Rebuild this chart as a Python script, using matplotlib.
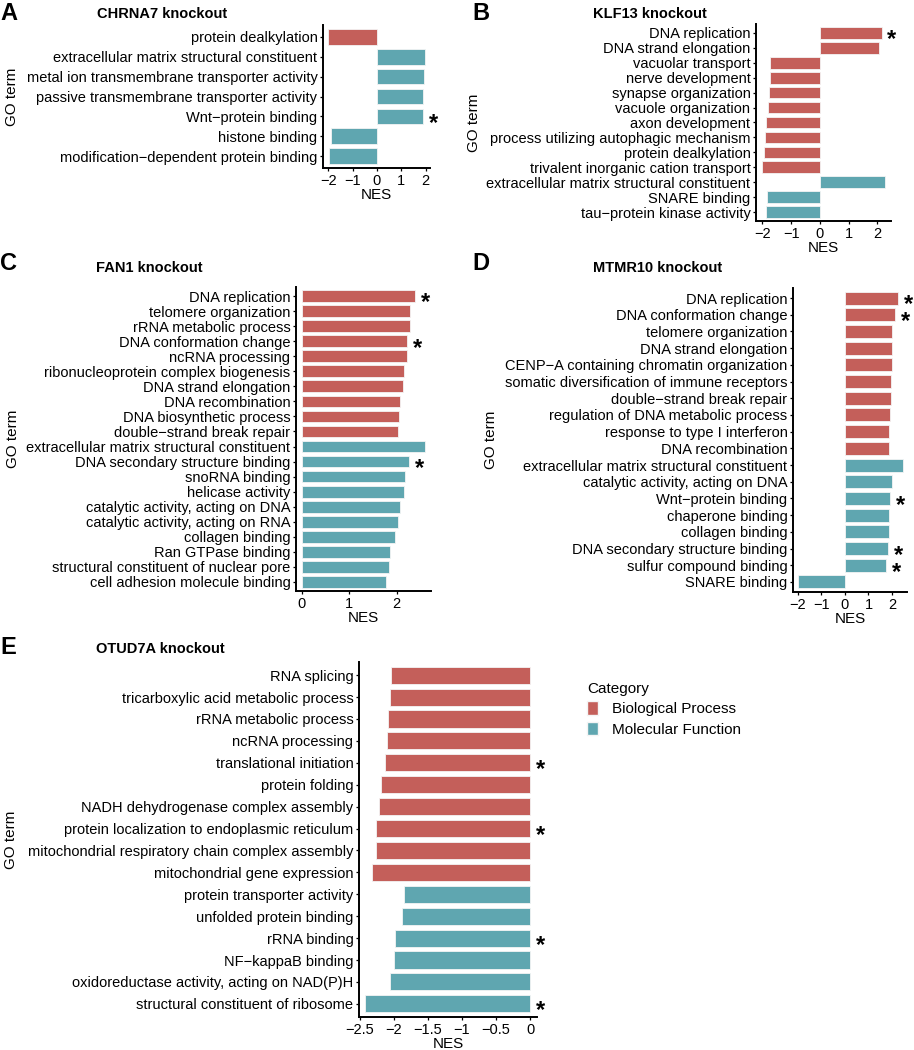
import matplotlib
matplotlib.use("Agg")
import matplotlib.pyplot as plt
from matplotlib.patches import Patch
from matplotlib.ticker import FuncFormatter

plt.rcParams['font.family'] = ['Liberation Sans', 'DejaVu Sans']

BP = "#C45F5A"
MF = "#5FA6B0"

# panel A: CHRNA7
a_terms = ["protein dealkylation", "extracellular matrix structural constituent",
           "metal ion transmembrane transporter activity", "passive transmembrane transporter activity",
           "Wnt\u2212protein binding", "histone binding", "modification\u2212dependent protein binding"]
a_nes = [-2.03, 1.97, 1.92, 1.90, 1.90, -1.89, -1.99]
a_cat = ["BP", "MF", "MF", "MF", "MF", "MF", "MF"]
a_sig = [0, 0, 0, 0, 1, 0, 0]

# panel B: KLF13
b_terms = ["DNA replication", "DNA strand elongation", "vacuolar transport", "nerve development",
           "synapse organization", "vacuole organization", "axon development",
           "process utilizing autophagic mechanism", "protein dealkylation",
           "trivalent inorganic cation transport", "extracellular matrix structural constituent",
           "SNARE binding", "tau\u2212protein kinase activity"]
b_nes = [2.14, 2.06, -1.73, -1.73, -1.76, -1.79, -1.87, -1.91, -1.93, -2.00, 2.27, -1.85, -1.86]
b_cat = ["BP"] * 10 + ["MF"] * 3
b_sig = [1] + [0] * 12

# panel C: FAN1
c_terms = ["DNA replication", "telomere organization", "rRNA metabolic process",
           "DNA conformation change", "ncRNA processing", "ribonucleoprotein complex biogenesis",
           "DNA strand elongation", "DNA recombination", "DNA biosynthetic process",
           "double\u2212strand break repair", "extracellular matrix structural constituent",
           "DNA secondary structure binding", "snoRNA binding", "helicase activity",
           "catalytic activity, acting on DNA", "catalytic activity, acting on RNA",
           "collagen binding", "Ran GTPase binding", "structural constituent of nuclear pore",
           "cell adhesion molecule binding"]
c_nes = [2.38, 2.27, 2.27, 2.21, 2.21, 2.15, 2.13, 2.06, 2.04, 2.02,
         2.60, 2.25, 2.17, 2.16, 2.06, 2.02, 1.96, 1.85, 1.84, 1.78]
c_cat = ["BP"] * 10 + ["MF"] * 10
c_sig = [1, 0, 0, 1, 0, 0, 0, 0, 0, 0, 0, 1, 0, 0, 0, 0, 0, 0, 0, 0]

# panel D: MTMR10
d_terms = ["DNA replication", "DNA conformation change", "telomere organization",
           "DNA strand elongation", "CENP\u2212A containing chromatin organization",
           "somatic diversification of immune receptors", "double\u2212strand break repair",
           "regulation of DNA metabolic process", "response to type I interferon",
           "DNA recombination", "extracellular matrix structural constituent",
           "catalytic activity, acting on DNA", "Wnt\u2212protein binding", "chaperone binding",
           "collagen binding", "DNA secondary structure binding", "sulfur compound binding",
           "SNARE binding"]
d_nes = [2.27, 2.13, 2.01, 2.00, 1.99, 1.97, 1.97, 1.90, 1.86, 1.86,
         2.47, 2.01, 1.90, 1.89, 1.87, 1.83, 1.74, -2.00]
d_cat = ["BP"] * 10 + ["MF"] * 8
d_sig = [1, 1, 0, 0, 0, 0, 0, 0, 0, 0, 0, 0, 1, 0, 0, 1, 1, 0]

# panel E: OTUD7A
e_terms = ["RNA splicing", "tricarboxylic acid metabolic process", "rRNA metabolic process",
           "ncRNA processing", "translational initiation", "protein folding",
           "NADH dehydrogenase complex assembly", "protein localization to endoplasmic reticulum",
           "mitochondrial respiratory chain complex assembly", "mitochondrial gene expression",
           "protein transporter activity", "unfolded protein binding", "rRNA binding",
           "NF\u2212kappaB binding", "oxidoreductase activity, acting on NAD(P)H",
           "structural constituent of ribosome"]
e_nes = [-2.04, -2.06, -2.08, -2.10, -2.13, -2.19, -2.21, -2.26, -2.26, -2.32,
         -1.85, -1.88, -1.98, -2.00, -2.06, -2.42]
e_cat = ["BP"] * 10 + ["MF"] * 6
e_sig = [0, 0, 0, 0, 1, 0, 0, 1, 0, 0, 0, 0, 1, 0, 0, 1]

W, H = 914, 1050
fig = plt.figure(figsize=(W / 100, H / 100), dpi=100)


def px_axes(left, top, right, bottom):
    return fig.add_axes([left / W, 1 - bottom / H, (right - left) / W, (bottom - top) / H])


def fmt(v, pos):
    return ("%g" % v).replace("-", "\u2212")


def panel(ax, terms, nes, cat, sig, xlim, xticks, ylab_x):
    n = len(terms)
    ys = [n - 1 - i for i in range(n)]
    cols = [BP if c == "BP" else MF for c in cat]
    ax.barh(ys, nes, height=0.78, color=cols, edgecolor="#f4f4f4", linewidth=0.6)
    for y, v, s in zip(ys, nes, sig):
        if s:
            ax.annotate("*", (max(v, 0), y), xytext=(7.5, -5), textcoords="offset points",
                        ha="center", va="center", fontsize=17, fontweight="bold")
    ax.set_yticks(ys)
    ax.set_yticklabels(terms)
    ax.set_ylim(-0.6, n - 0.4)
    ax.set_xlim(*xlim)
    ax.set_xticks(xticks)
    ax.xaxis.set_major_formatter(FuncFormatter(fmt))
    ax.set_xlabel("NES", fontsize=11, labelpad=0)
    ax.set_ylabel("GO term", fontsize=11)
    # y titles sit in a shared column (x is the right edge of the rotated text)
    bb = ax.get_position()
    ax.yaxis.set_label_coords(ylab_x / W, bb.y0 + bb.height / 2, transform=fig.transFigure)
    for s in ["top", "right"]:
        ax.spines[s].set_visible(False)
    for s in ["left", "bottom"]:
        ax.spines[s].set_linewidth(1.4)
    ax.tick_params(axis="both", length=2.5, width=0.9, labelsize=10.5, pad=1.5, colors="black")


axA = px_axes(323, 25, 430, 168)
panel(axA, a_terms, a_nes, a_cat, a_sig, (-2.22, 2.18), [-2, -1, 0, 1, 2], 19)
axB = px_axes(756, 24, 891, 221)
panel(axB, b_terms, b_nes, b_cat, b_sig, (-2.22, 2.47), [-2, -1, 0, 1, 2], 481)
axC = px_axes(296, 287, 431, 591)
panel(axC, c_terms, c_nes, c_cat, c_sig, (-0.12, 2.72), [0, 1, 2], 20)
axD = px_axes(793, 288, 907, 592)
panel(axD, d_terms, d_nes, d_cat, d_sig, (-2.21, 2.64), [-2, -1, 0, 1, 2], 498)
axE = px_axes(359, 662, 537, 1017)
panel(axE, e_terms, e_nes, e_cat, e_sig, (-2.51, 0.1), [-2.5, -2, -1.5, -1, -0.5, 0], 18)

# panel letters and titles
for letter, lx, ly, title, tx, ty in [("A", 0, 14, "CHRNA7 knockout", 97, 14),
                                      ("B", 472, 14, "KLF13 knockout", 593, 14),
                                      ("C", 0, 264, "FAN1 knockout", 96, 268),
                                      ("D", 472, 264, "MTMR10 knockout", 593, 268),
                                      ("E", 0, 647, "OTUD7A knockout", 96, 649)]:
    fig.text(lx / W, 1 - ly / H, letter, fontsize=17, fontweight="bold", va="center", ha="left")
    fig.text(tx / W, 1 - ty / H, title, fontsize=10.5, fontweight="bold", va="center", ha="left")

handles = [Patch(facecolor=BP, edgecolor="#f4f4f4", label="Biological Process"),
           Patch(facecolor=MF, edgecolor="#f4f4f4", label="Molecular Function")]
leg = fig.legend(handles=handles, title="Category", loc="upper left",
                 bbox_to_anchor=(573 / W, 1 - 668 / H), frameon=False, fontsize=11,
                 title_fontsize=11, handlelength=0.75, handleheight=1.0, handletextpad=0.9,
                 labelspacing=0.35)
leg._legend_box.align = "left"

fig.savefig("out.png", dpi=100)
